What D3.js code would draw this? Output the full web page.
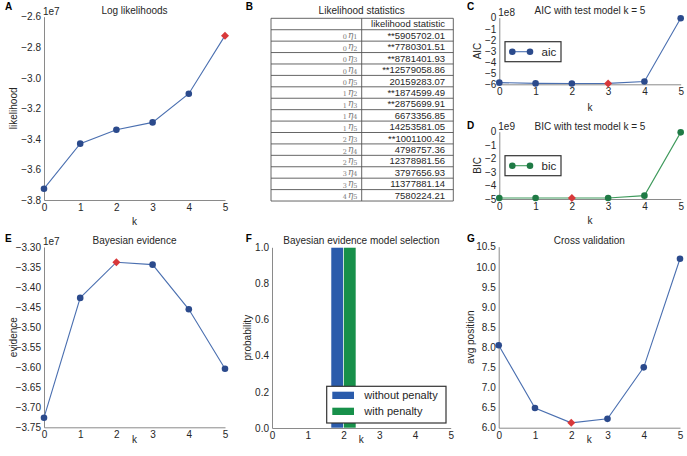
<!DOCTYPE html>
<html>
<head>
<meta charset="utf-8">
<script src="https://cdn.jsdelivr.net/npm/d3@7"></script>
<style>
  body { margin: 0; background: #fff; }
  svg { font-family: "Liberation Sans", Arial, sans-serif; }
</style>
</head>
<body>
<svg id="fig" width="687" height="456"></svg>
<script>
// ---- data ----
var ks = [0, 1, 2, 3, 4, 5];

var logLik = [-37260000, -34310000, -33400000, -32920000, -31040000, -27240000];
var logLikBest = 5;

var aic = [-585000000, -592000000, -593000000, -592000000, -575000000, -5000000];
var aicBest = 3;

var bic = [-4930000000, -4930000000, -4930000000, -4930000000, -4750000000, -50000000];
var bicBest = 2;

var evidence = [-37260000, -34270000, -33380000, -33440000, -34555000, -36040000];
var evidenceBest = 2;

var crossVal = [8.05, 6.49, 6.12, 6.22, 7.50, 10.20];
var crossValBest = 2;

var probWithout = [0, 0, 1, 0, 0, 0];
var probWith = [0, 0, 1, 0, 0, 0];

var statI = [0, 0, 0, 0, 0, 1, 1, 1, 1, 2, 2, 2, 3, 3, 4];
var statJ = [1, 2, 3, 4, 5, 2, 3, 4, 5, 3, 4, 5, 4, 5, 5];
var statValues = ["**5905702.01", "**7780301.51", "**8781401.93", "**12579058.86", "20159283.07",
  "**1874599.49", "**2875699.91", "6673356.85", "14253581.05", "**1001100.42",
  "4798757.36", "12378981.56", "3797656.93", "11377881.14", "7580224.21"];

var blueLine = "#4a6fb0", blueDot = "#2b4a8c", red = "#d8383a";
var greenLine = "#3f9a5c", greenDot = "#1f7a45";
var barBlue = "#2a5bab", barGreen = "#17904a";
var spine = "#8a8a8a", txt = "#262626";

var svg = d3.select("#fig");
var fmtMinus = function(f) { return function(d) { return d3.format(f)(d).replace("-", "\u2212"); }; };

function axes(g, x, y, yTicks, yFmt, xTicks) {
  var ya = g.append("g").attr("transform", "translate(" + x.range()[0] + ",0)")
    .call(d3.axisLeft(y).tickValues(yTicks).tickFormat(yFmt).tickSize(0).tickPadding(3));
  var xa = g.append("g").attr("transform", "translate(0," + y.range()[0] + ")")
    .call(d3.axisBottom(x).tickValues(xTicks).tickFormat(d3.format("d")).tickSize(0).tickPadding(4));
  [ya, xa].forEach(function(a) {
    a.select(".domain").attr("stroke", spine).attr("stroke-width", 1);
    a.selectAll("text").attr("font-size", 10).attr("fill", txt).attr("font-family", "Liberation Sans, Arial");
  });
}

function labels(c) {
  svg.append("text").attr("x", c.letterX).attr("y", c.letterY).attr("font-weight", "bold")
    .attr("font-size", 10).attr("fill", "#000").text(c.letter);
  svg.append("text").attr("x", (c.x0 + c.x1) / 2).attr("y", c.titleY).attr("text-anchor", "middle")
    .attr("font-size", 10).attr("fill", txt).text(c.title);
  svg.append("text").attr("transform", "translate(" + c.ylabX + "," + (c.y0 + c.y1) / 2 + ") rotate(-90)")
    .attr("text-anchor", "middle").attr("dy", "0.35em").attr("font-size", 10).attr("fill", txt).text(c.ylabel);
  svg.append("text").attr("x", (c.x0 + c.x1) / 2).attr("y", c.xlabY).attr("text-anchor", "middle")
    .attr("dy", "0.35em").attr("font-size", 10).attr("fill", txt).text("k");
  if (c.offset) {
    svg.append("text").attr("x", c.x0 - 1).attr("y", c.offsetY).attr("font-size", 10)
      .attr("fill", txt).text(c.offset);
  }
}

function linePanel(c) {
  var x = d3.scaleLinear().domain([0, 5]).range([c.x0, c.x1]);
  var y = d3.scaleLinear().domain(c.domain).range([c.y1, c.y0]);
  var g = svg.append("g");
  axes(g, x, y, c.yTicks, c.yFmt, ks);
  labels(c);
  var vals = c.values.map(function(v) { return v / c.scale; });
  g.append("path").datum(vals)
    .attr("d", d3.line().x(function(d, i) { return x(ks[i]); }).y(function(d) { return y(d); }))
    .attr("fill", "none").attr("stroke", c.line).attr("stroke-width", 1.1);
  vals.forEach(function(v, i) {
    if (i === c.best) return;
    g.append("circle").attr("cx", x(ks[i])).attr("cy", y(v)).attr("r", 3.3).attr("fill", c.dot);
  });
  // best model: red diamond (rotated square)
  g.append("path").attr("d", d3.symbol().type(d3.symbolSquare).size(32)())
    .attr("transform", "translate(" + x(ks[c.best]) + "," + y(vals[c.best]) + ") rotate(45)")
    .attr("fill", red);
  if (c.legend) {
    var lg = svg.append("g");
    lg.append("rect").attr("x", c.legend.x).attr("y", c.legend.y).attr("width", 56).attr("height", 20)
      .attr("fill", "#fff").attr("stroke", "#333").attr("stroke-width", 1.2);
    var ly = c.legend.y + 10;
    lg.append("line").attr("x1", c.legend.x + 7.3).attr("x2", c.legend.x + 25).attr("y1", ly).attr("y2", ly)
      .attr("stroke", c.line).attr("stroke-width", 1.1);
    [7.3, 25].forEach(function(dx) {
      lg.append("circle").attr("cx", c.legend.x + dx).attr("cy", ly).attr("r", 3.3).attr("fill", c.dot);
    });
    lg.append("text").attr("x", c.legend.x + 36.5).attr("y", ly + 4).attr("font-size", 11.5)
      .attr("fill", txt).text(c.legend.text);
  }
}

// A
linePanel({ letter: "A", letterX: 5, letterY: 10, title: "Log likelihoods", titleY: 13.5,
  x0: 44, x1: 225, y0: 16.7, y1: 200, domain: [-3.8, -2.6], scale: 1e7,
  yTicks: d3.range(-3.8, -2.59, 0.2), yFmt: fmtMinus(".1f"), values: logLik, best: logLikBest,
  ylabel: "likelihood", ylabX: 13, xlabY: 221, offset: "1e7", offsetY: 14.5,
  line: blueLine, dot: blueDot });

// C
linePanel({ letter: "C", letterX: 467, letterY: 10, title: "AIC with test model k = 5", titleY: 14,
  x0: 499.3, x1: 680.7, y0: 17.7, y1: 84.3, domain: [-6, 0], scale: 1e8,
  yTicks: d3.range(-6, 0.5, 1), yFmt: fmtMinus("d"), values: aic, best: aicBest,
  ylabel: "AIC", ylabX: 477.7, xlabY: 107, offset: "1e8", offsetY: 15.5,
  line: blueLine, dot: blueDot, legend: { x: 505, y: 41.7, text: "aic" } });

// D
linePanel({ letter: "D", letterX: 467, letterY: 129, title: "BIC with test model k = 5", titleY: 129.5,
  x0: 499.3, x1: 680.7, y0: 131.7, y1: 199, domain: [-5, 0], scale: 1e9,
  yTicks: d3.range(-5, 0.5, 1), yFmt: fmtMinus("d"), values: bic, best: bicBest,
  ylabel: "BIC", ylabX: 477.7, xlabY: 220.7, offset: "1e9", offsetY: 129.5,
  line: greenLine, dot: greenDot, legend: { x: 505, y: 155.7, text: "bic" } });

// E
linePanel({ letter: "E", letterX: 5, letterY: 241.5, title: "Bayesian evidence", titleY: 243.5,
  x0: 44, x1: 225, y0: 247, y1: 427.3, domain: [-3.75, -3.30], scale: 1e7,
  yTicks: d3.range(-3.75, -3.29, 0.05), yFmt: fmtMinus(".2f"), values: evidence, best: evidenceBest,
  ylabel: "evidence", ylabX: 13, xlabY: 439, offset: "1e7", offsetY: 245,
  line: blueLine, dot: blueDot });

// G
linePanel({ letter: "G", letterX: 467, letterY: 241.5, title: "Cross validation", titleY: 243.5,
  x0: 498.7, x1: 680, y0: 246.7, y1: 427.7, domain: [6.0, 10.5], scale: 1,
  yTicks: d3.range(6.0, 10.51, 0.5), yFmt: d3.format(".1f"), values: crossVal, best: crossValBest,
  ylabel: "avg position", ylabX: 470, xlabY: 439,
  line: blueLine, dot: blueDot });

// F - bar chart
(function() {
  var c = { letter: "F", letterX: 245.7, letterY: 241.5, title: "Bayesian evidence model selection", titleY: 243.5,
    x0: 272, x1: 450.7, y0: 247.3, y1: 428, ylabel: "probability", ylabX: 247.7, xlabY: 439 };
  var x = d3.scaleLinear().domain([0, 5]).range([c.x0, c.x1]);
  var y = d3.scaleLinear().domain([0, 1]).range([c.y1, c.y0]);
  var g = svg.append("g");
  var bw = 0.35;
  g.selectAll("rect.a").data(probWithout).enter().append("rect")
    .attr("x", function(d, i) { return x(ks[i] - bw); }).attr("width", x(bw) - x(0))
    .attr("y", function(d) { return y(d); }).attr("height", function(d) { return y(0) - y(d); })
    .attr("fill", barBlue).attr("stroke", "#fff").attr("stroke-width", 0.6);
  g.selectAll("rect.b").data(probWith).enter().append("rect")
    .attr("x", function(d, i) { return x(ks[i]); }).attr("width", x(bw) - x(0))
    .attr("y", function(d) { return y(d); }).attr("height", function(d) { return y(0) - y(d); })
    .attr("fill", barGreen).attr("stroke", "#fff").attr("stroke-width", 0.6);
  axes(g, x, y, d3.range(0, 1.01, 0.2), d3.format(".1f"), ks);
  labels(c);
  var lg = svg.append("g");
  lg.append("rect").attr("x", 326.7).attr("y", 386.3).attr("width", 119.3).attr("height", 36.7)
    .attr("fill", "#fff").attr("stroke", "#333").attr("stroke-width", 1.2);
  [["without penalty", barBlue], ["with penalty", barGreen]].forEach(function(e, i) {
    lg.append("rect").attr("x", 332.3).attr("y", 391.7 + i * 16).attr("width", 21.7).attr("height", 7.3)
      .attr("fill", e[1]);
    lg.append("text").attr("x", 364.3).attr("y", 399 + i * 16).attr("font-size", 11).attr("fill", txt).text(e[0]);
  });
})();

// B - table
(function() {
  var tx0 = 271, tx1 = 453.3, tmid = 361.7, ty0 = 18.3, rh = 11.42;
  var nrows = statValues.length + 1;
  svg.append("text").attr("x", 245.7).attr("y", 10).attr("font-weight", "bold").attr("font-size", 10).text("B");
  svg.append("text").attr("x", tmid).attr("y", 13.7).attr("text-anchor", "middle").attr("font-size", 10)
    .attr("fill", txt).text("Likelihood statistics");
  var t = svg.append("g");
  var rows = d3.range(nrows + 1);
  t.selectAll("line.h").data(rows).enter().append("line")
    .attr("x1", tx0).attr("x2", tx1).attr("y1", function(d) { return ty0 + d * rh; })
    .attr("y2", function(d) { return ty0 + d * rh; }).attr("stroke", "#555").attr("stroke-width", 0.9);
  [tx0, tmid, tx1].forEach(function(xv) {
    t.append("line").attr("x1", xv).attr("x2", xv).attr("y1", ty0).attr("y2", ty0 + nrows * rh)
      .attr("stroke", "#555").attr("stroke-width", 0.9);
  });
  t.append("text").attr("x", 445).attr("y", ty0 + rh / 2 + 3.4).attr("text-anchor", "end")
    .attr("font-size", 9.5).attr("fill", txt).text("likelihood statistic");
  statValues.forEach(function(v, i) {
    var yb = ty0 + (i + 1) * rh + rh / 2 + 3.4;
    t.append("text").attr("x", 445).attr("y", yb).attr("text-anchor", "end")
      .attr("font-size", 9.5).attr("fill", txt).text(v);
    var lab = t.append("text").attr("x", 357.5).attr("y", yb).attr("text-anchor", "end")
      .attr("fill", "#777").attr("font-family", "DejaVu Serif, serif");
    lab.append("tspan").attr("font-size", 6.5).attr("dy", 0.5).text(statI[i]);
    lab.append("tspan").attr("font-size", 9).attr("font-style", "italic").attr("dy", -1.5).attr("dx", 1).text("\u03b7");
    lab.append("tspan").attr("font-size", 6.5).attr("dy", 1.5).text(statJ[i]);
  });
})();
</script>
</body>
</html>
